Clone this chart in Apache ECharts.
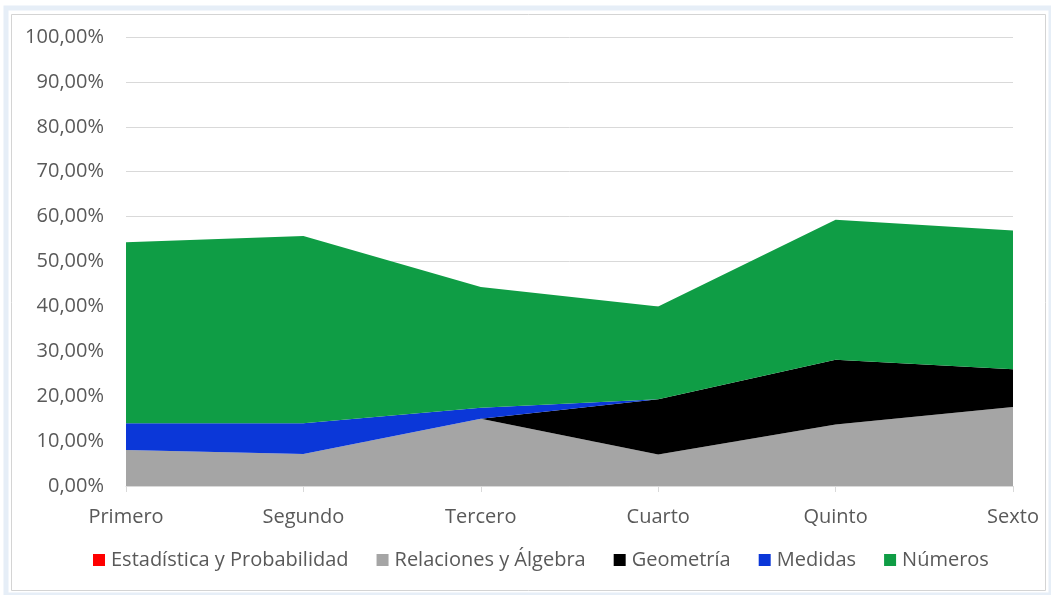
<!DOCTYPE html>
<html>
<head>
<meta charset="utf-8">
<script src="https://cdn.jsdelivr.net/npm/echarts@6/dist/echarts.min.js"></script>
<style>
  html, body { margin: 0; padding: 0; background: #ffffff; }
  #chart { width: 1051px; height: 595px; }
</style>
</head>
<body>
<div id="chart"></div>
<script>
// Grades (x categories)
const grades = ['Primero', 'Segundo', 'Tercero', 'Cuarto', 'Quinto', 'Sexto'];

// Share of each strand per grade, in percent (stacked bottom to top)
const estadistica = [0, 0, 0, 0, 0, 0];
const relaciones  = [8.0, 7.1, 15.0, 7.0, 13.7, 17.6];
const geometria   = [0, 0, 0, 12.3, 14.4, 8.4];
const medidas     = [6.0, 6.9, 2.4, 0, 0, 0];
const numeros     = [40.3, 41.7, 26.9, 20.7, 31.2, 30.9];

const seriesNames = ['Estadística y Probabilidad', 'Relaciones y Álgebra', 'Geometría', 'Medidas', 'Números'];
const seriesColors = ['#ff0000', '#a5a5a5', '#000000', '#0b37d8', '#0f9d45'];
const seriesData = [estadistica, relaciones, geometria, medidas, numeros];

const FONT = 'Open Sans';
const TEXT = '#595959';

const chart = echarts.init(document.getElementById('chart'), null, { renderer: 'canvas' });

chart.setOption({
  animation: false,
  backgroundColor: '#ffffff',
  graphic: [
    { type: 'rect', shape: { x: 6, y: 8, width: 1045, height: 587 },
      style: { fill: 'none', stroke: '#e6eef7', lineWidth: 5 }, z: -10 },
    { type: 'rect', shape: { x: 11.5, y: 14.5, width: 1034, height: 576 },
      style: { fill: 'none', stroke: '#d4d4d4', lineWidth: 1 }, z: -9 }
  ],
  grid: { left: 126, right: 38, top: 37, bottom: 109, containLabel: false },
  legend: {
    top: 550,
    left: 93,
    padding: 0,
    itemWidth: 12,
    itemHeight: 12,
    itemGap: 28,
    icon: 'rect',
    textStyle: { fontFamily: FONT, fontSize: 20, color: TEXT, padding: [0, 0, 0, 1] },
    data: seriesNames
  },
  xAxis: {
    type: 'category',
    data: grades,
    boundaryGap: false,
    axisLine: { lineStyle: { color: '#d9d9d9', width: 1 } },
    axisTick: { show: true, length: 6, alignWithLabel: true, lineStyle: { color: '#d9d9d9' } },
    axisLabel: { fontFamily: FONT, fontSize: 20, color: TEXT, margin: 21, interval: 0 },
    splitLine: { show: false }
  },
  yAxis: {
    type: 'value',
    min: 0,
    max: 100,
    interval: 10,
    axisLine: { show: false },
    axisTick: { show: false },
    axisLabel: {
      fontFamily: FONT, fontSize: 20, color: TEXT, margin: 22,
      formatter: v => v.toFixed(2).replace('.', ',') + '%'
    },
    splitLine: { lineStyle: { color: '#d9d9d9', width: 1 } }
  },
  series: seriesNames.map((name, i) => ({
    name,
    type: 'line',
    stack: 'total',
    data: seriesData[i],
    symbol: 'none',
    showSymbol: false,
    lineStyle: { width: 0 },
    itemStyle: { color: seriesColors[i] },
    areaStyle: { color: seriesColors[i], opacity: 1 },
    emphasis: { disabled: true },
    z: 2
  }))
});
</script>
</body>
</html>
